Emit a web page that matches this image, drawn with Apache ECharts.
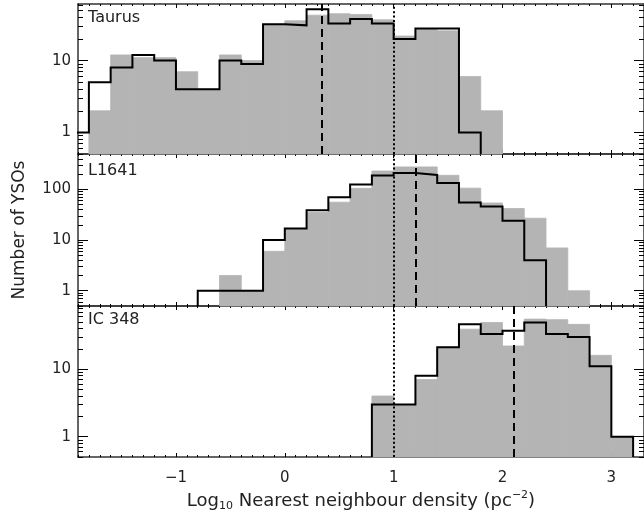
<!DOCTYPE html>
<html><head><meta charset="utf-8">
<script src="https://cdn.jsdelivr.net/npm/echarts@6/dist/echarts.min.js"></script>
<style>html,body{margin:0;padding:0;background:#fff}#c{width:644px;height:514px}</style>
</head><body><div id="c"></div>
<script>
// ---- data ----
const xMin = -1.9, xMax = 3.3;
const xTickLabels = [-1, 0, 1, 2, 3];
const panelNames = ['Taurus', 'L1641', 'IC 348'];

const taurusEdges = [-2.0,-1.8,-1.6,-1.4,-1.2,-1.0,-0.8,-0.6,-0.4,-0.2,0.0,0.2,0.4,0.6,0.8,1.0,1.2,1.4,1.6,1.8,2.0];
const taurusGray  = [0,2,12,11,11,7,4,12,10,32,36,43,45,44,37,22,28,26,6,2];
const taurusBlack = [1,5,8,12,10,4,4,10,9,32,31,52,33,38,33,20,28,28,1,0];

const l1641Edges = [-0.8,-0.6,-0.4,-0.2,0.0,0.2,0.4,0.6,0.8,1.0,1.2,1.4,1.6,1.8,2.0,2.2,2.4,2.6,2.8];
const l1641Gray  = [0,2,1,6,17,35,56,105,231,278,278,190,106,54,42,27,7,1];
const l1641Black = [1,1,1,10,17,39,70,125,189,211,193,134,55,46,24,4,0,0];

const ic348Edges = [0.8,1.0,1.2,1.4,1.6,1.8,2.0,2.2,2.4,2.6,2.8,3.0,3.2];
const ic348Gray  = [4,3,7,21,39,49,22,55,54,46,16,1];
const ic348Black = [3,3,8,21,46,33,37,49,33,30,11,1];

const medianLines = [0.34, 1.2, 2.1];   // dashed
const dottedLine = 1.0;                  // dotted, all panels
const yMin = 0.5;
const yMaxes = [61.5, 500, 86];
const yTickLabels = [[1, 10], [1, 10, 100], [1, 10]];

// ---- build ----
const FONT = 'DejaVu Sans';
const TEXT = '#222';
const AXIS = '#333';
const GRAY = '#b4b4b4';

const panels = [
  {name: panelNames[0], edges: taurusEdges, gray: taurusGray, black: taurusBlack, median: medianLines[0], yMax: yMaxes[0], major: yTickLabels[0]},
  {name: panelNames[1], edges: l1641Edges, gray: l1641Gray, black: l1641Black, median: medianLines[1], yMax: yMaxes[1], major: yTickLabels[1]},
  {name: panelNames[2], edges: ic348Edges, gray: ic348Gray, black: ic348Black, median: medianLines[2], yMax: yMaxes[2], major: yTickLabels[2]}
];
const gridTops = [4, 154, 306];
const gridHeights = [150, 152, 151];
const titleTops = [10, 163, 312];

const xMinorTicks = [];
for (let i = -19; i <= 33; i++) xMinorTicks.push(i / 10);
function minorY(max) {
  const out = [];
  [0.1, 1, 10, 100].forEach(d => { for (let k = 2; k <= 9; k++) { const v = +(k * d).toPrecision(3); if (v >= yMin && v <= max) out.push(v); } });
  return out;
}
const fmtX = v => v < 0 ? '\u2212' + (-v) : String(v);

function xAx(grid, pos, ticks, len, line, labels) {
  const a = {
    type: 'value', gridIndex: grid, position: pos, min: xMin, max: xMax,
    axisLine: {show: line, onZero: false, lineStyle: {color: AXIS, width: 1.5}},
    axisTick: {show: true, inside: true, length: len, customValues: ticks, lineStyle: {color: '#000', width: 1}},
    axisLabel: {show: labels, customValues: xTickLabels, margin: 14, fontFamily: FONT, fontSize: 15, color: TEXT, formatter: fmtX},
    splitLine: {show: false}
  };
  if (labels) {
    a.name = '{a|Log}{s|10}{a| Nearest neighbour density (pc}{p|\u22122}{a|)}';
    a.nameLocation = 'middle';
    a.nameGap = 33;
    a.nameTextStyle = {
      color: TEXT, fontFamily: FONT, fontSize: 18,
      rich: {
        a: {fontFamily: FONT, fontSize: 18, color: TEXT, lineHeight: 22, verticalAlign: 'middle'},
        s: {fontFamily: FONT, fontSize: 11, color: TEXT, lineHeight: 11, verticalAlign: 'bottom'},
        p: {fontFamily: FONT, fontSize: 11, color: TEXT, lineHeight: 11, verticalAlign: 'top'}
      }
    };
  }
  return a;
}
function yAx(grid, pos, ticks, len, line, labels, max, labelVals, named) {
  const a = {
    type: 'log', logBase: 10, gridIndex: grid, position: pos, min: yMin, max: max,
    axisLine: {show: line, onZero: false, lineStyle: {color: AXIS, width: 1.5}},
    axisTick: {show: true, inside: true, length: len, customValues: ticks, lineStyle: {color: '#000', width: 1}},
    axisLabel: {show: labels, customValues: labelVals, margin: 7, fontFamily: FONT, fontSize: 15, color: TEXT, formatter: v => String(v)},
    splitLine: {show: false}, minorTick: {show: false}
  };
  if (named) {
    a.name = 'Number of YSOs';
    a.nameLocation = 'middle';
    a.nameRotate = 90;
    a.nameGap = 50;
    a.nameTextStyle = {color: TEXT, fontFamily: FONT, fontSize: 17};
  }
  return a;
}

function stepData(edges, counts) {
  let first = counts.findIndex(c => c > 0);
  let last = counts.length - 1;
  while (last > 0 && counts[last] <= 0) last--;
  const pts = [[edges[first], yMin]];
  for (let i = first; i <= last; i++) pts.push([edges[i], counts[i] > 0 ? counts[i] : yMin]);
  pts.push([edges[last + 1], yMin]);
  return pts;
}

const grids = [], xAxes = [], yAxes = [], series = [], titles = [];
panels.forEach((p, i) => {
  const rect = {left: 78, width: 568, top: gridTops[i], height: gridHeights[i]};
  grids.push(Object.assign({}, rect), Object.assign({}, rect));
  const gMaj = 2 * i, gMin = 2 * i + 1;
  const isLast = i === 2;
  const minors = minorY(p.yMax);
  xAxes.push(xAx(gMaj, 'bottom', xTickLabels, 4, true, isLast));
  xAxes.push(xAx(gMaj, 'top', xTickLabels, 4, true, false));
  xAxes.push(xAx(gMin, 'bottom', xMinorTicks, 2, false, false));
  xAxes.push(xAx(gMin, 'top', xMinorTicks, 2, false, false));
  yAxes.push(yAx(gMaj, 'left', p.major, 10, true, true, p.yMax, p.major, i === 1));
  yAxes.push(yAx(gMaj, 'right', p.major, 10, true, false, p.yMax, p.major, false));
  yAxes.push(yAx(gMin, 'left', minors, 5, false, false, p.yMax, p.major, false));
  yAxes.push(yAx(gMin, 'right', minors, 5, false, false, p.yMax, p.major, false));

  const barData = p.gray.map((v, k) => [p.edges[k], p.edges[k + 1], v]);
  series.push({
    type: 'custom', xAxisIndex: 4 * i, yAxisIndex: 4 * i,
    encode: {x: [0, 1], y: 2},
    data: barData,
    renderItem: (params, api) => {
      const v = api.value(2);
      if (!(v > 0)) return null;
      const cs = params.coordSys;
      const pTop = api.coord([api.value(0), v]);
      const pRight = api.coord([api.value(1), v]);
      const bottom = cs.y + cs.height;
      const shape = echarts.graphic.clipRectByRect(
        {x: pTop[0], y: pTop[1], width: pRight[0] - pTop[0], height: bottom - pTop[1]},
        {x: cs.x, y: cs.y, width: cs.width, height: cs.height});
      if (!shape) return null;
      return {type: 'rect', shape: shape, style: {fill: GRAY, stroke: GRAY, lineWidth: 0.8}};
    },
    silent: true, z: 1
  });
  series.push({
    type: 'line', xAxisIndex: 4 * i, yAxisIndex: 4 * i,
    step: 'end', symbol: 'none', clip: true,
    data: stepData(p.edges, p.black),
    lineStyle: {color: '#000', width: 2, join: 'miter'},
    z: 3, silent: true,
    markLine: {
      silent: true, symbol: ['none', 'none'], label: {show: false},
      data: [
        {xAxis: dottedLine, lineStyle: {color: '#000', width: 2, type: [2, 2.4]}},
        {xAxis: p.median, lineStyle: {color: '#000', width: 2, type: [8, 5]}}
      ]
    }
  });
  titles.push({text: p.name, left: 88, top: titleTops[i], padding: 0,
    textStyle: {fontFamily: FONT, fontSize: 16, fontWeight: 'normal', color: TEXT}});
});

const chart = echarts.init(document.getElementById('c'), null, {renderer: 'canvas'});
chart.setOption({
  animation: false,
  backgroundColor: '#fff',
  title: titles,
  grid: grids,
  xAxis: xAxes,
  yAxis: yAxes,
  series: series
});
</script></body></html>
